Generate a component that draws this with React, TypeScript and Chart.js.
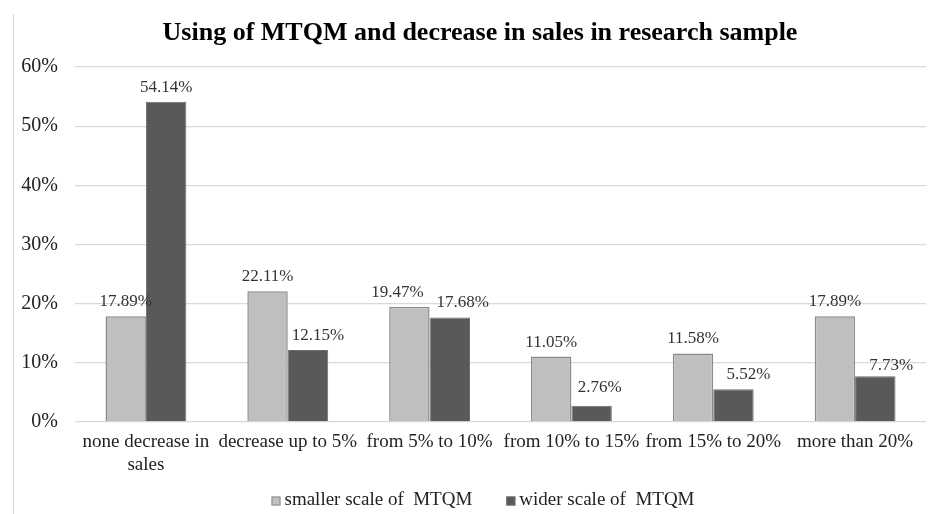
import React, { useEffect, useRef } from "react";
import { Chart, registerables } from "chart.js";

Chart.register(...registerables);

const TITLE = "Using of MTQM and decrease in sales in research sample";
const CATEGORIES: (string | string[])[] = [
  ["none decrease in", "sales"],
  "decrease up to 5%",
  "from 5% to 10%",
  "from 10% to 15%",
  "from 15% to 20%",
  "more than 20%",
];
const SMALLER_LABEL = "smaller scale of  MTQM";
const WIDER_LABEL = "wider scale of  MTQM";
const SMALLER_VALUES = [17.89, 22.11, 19.47, 11.05, 11.58, 17.89];
const WIDER_VALUES = [54.14, 12.15, 17.68, 2.76, 5.52, 7.73];
const Y_TICKS = [0, 10, 20, 30, 40, 50, 60];

// label nudges (styling only)
const SMALLER_LABEL_DX = [0, 0, -12, 0, 0, 0];
const WIDER_LABEL_DX = [0, 10, 13, 8, 15, 16];
const WIDER_LABEL_DY = [0, 0, 0, -4, 0, 4];

const FONT = "'Liberation Serif', 'Times New Roman', serif";

const valueLabels = {
  id: "valueLabels",
  afterDatasetsDraw(chart: any) {
    const ctx = chart.ctx;
    ctx.save();
    ctx.font = `17px ${FONT}`;
    ctx.fillStyle = "#333333";
    ctx.textAlign = "center";
    ctx.textBaseline = "bottom";
    chart.data.datasets.forEach((ds: any, di: number) => {
      const meta = chart.getDatasetMeta(di);
      meta.data.forEach((el: any, i: number) => {
        const dx = di === 0 ? SMALLER_LABEL_DX[i] : WIDER_LABEL_DX[i];
        const dy = di === 0 ? 0 : WIDER_LABEL_DY[i];
        const v = ds.data[i] as number;
        ctx.fillText(v.toFixed(2) + "%", el.x + dx, el.y - 6 + dy);
      });
    });
    ctx.restore();
  },
};

const titleAndLegend = {
  id: "titleAndLegend",
  afterDraw(chart: any) {
    const ctx = chart.ctx;
    ctx.save();
    // title
    ctx.font = `bold 26px ${FONT}`;
    ctx.fillStyle = "#000000";
    ctx.textAlign = "center";
    ctx.textBaseline = "middle";
    ctx.fillText(TITLE, 480, 33);
    // legend
    ctx.font = `19px ${FONT}`;
    ctx.textAlign = "left";
    const box = 9;
    const gapText = 4;
    const gapItem = 34;
    const items = chart.data.datasets.map((ds: any) => ({
      label: ds.label as string,
      fill: ds.backgroundColor as string,
      stroke: ds.borderColor as string,
      w: ctx.measureText(ds.label).width,
    }));
    let total = 0;
    items.forEach((it: any, i: number) => {
      total += box + gapText + it.w + (i < items.length - 1 ? gapItem : 0);
    });
    let x = 483 - total / 2;
    const cy = 500;
    items.forEach((it: any) => {
      ctx.fillStyle = it.fill;
      ctx.fillRect(x, cy - box / 2 + 1, box, box);
      ctx.strokeStyle = it.stroke;
      ctx.lineWidth = 1;
      ctx.strokeRect(x + 0.5, cy - box / 2 + 1.5, box - 1, box - 1);
      ctx.fillStyle = "#222222";
      ctx.fillText(it.label, x + box + gapText, cy);
      x += box + gapText + it.w + gapItem;
    });
    ctx.restore();
  },
};

export default function App() {
  const ref = useRef<HTMLCanvasElement | null>(null);
  useEffect(() => {
    if (!ref.current) return;
    const chart = new Chart(ref.current, {
      type: "bar",
      data: {
        labels: CATEGORIES as any,
        datasets: [
          {
            label: SMALLER_LABEL,
            data: SMALLER_VALUES,
            backgroundColor: "#bfbfbf",
            borderColor: "#8c8c8c",
            borderWidth: 1.5,
            categoryPercentage: 0.57,
            barPercentage: 1,
          },
          {
            label: WIDER_LABEL,
            data: WIDER_VALUES,
            backgroundColor: "#595959",
            borderColor: "#6e6e6e",
            borderWidth: 1,
            categoryPercentage: 0.57,
            barPercentage: 1,
          },
        ],
      },
      options: {
        responsive: false,
        animation: false,
        layout: { padding: { left: 14, right: 20, top: 67, bottom: 32 } },
        plugins: {
          title: { display: false },
          legend: { display: false },
          tooltip: { enabled: false },
        },
        scales: {
          x: {
            grid: { display: false, drawTicks: false },
            border: { display: false },
            afterFit(scale: any) {
              scale.height = 60;
            },
            ticks: {
              color: "#222222",
              font: { family: FONT, size: 19 },
              padding: 9,
              maxRotation: 0,
              autoSkip: false,
            },
          },
          y: {
            min: 0,
            max: 60,
            afterBuildTicks(scale: any) {
              scale.ticks = Y_TICKS.map((v) => ({ value: v }));
            },
            afterFit(scale: any) {
              scale.width = 61;
            },
            grid: { color: "#d9d9d9", lineWidth: 1.3, drawTicks: false },
            border: { display: false },
            ticks: {
              color: "#222222",
              font: { family: FONT, size: 20 },
              padding: 17,
              callback: (v: any) => v + "%",
            },
          },
        },
      },
      plugins: [valueLabels, titleAndLegend],
    });
    return () => chart.destroy();
  }, []);
  return (
    <div style={{ position: "fixed", left: 0, top: 0, width: 946, height: 514, background: "#ffffff" }}>
      <div style={{ position: "absolute", left: 13, top: 14, width: 1, height: 500, background: "#d9d9d9" }} />
      <canvas ref={ref} width={946} height={514} style={{ position: "absolute", left: 0, top: 0, width: 946, height: 514 }} />
    </div>
  );
}
